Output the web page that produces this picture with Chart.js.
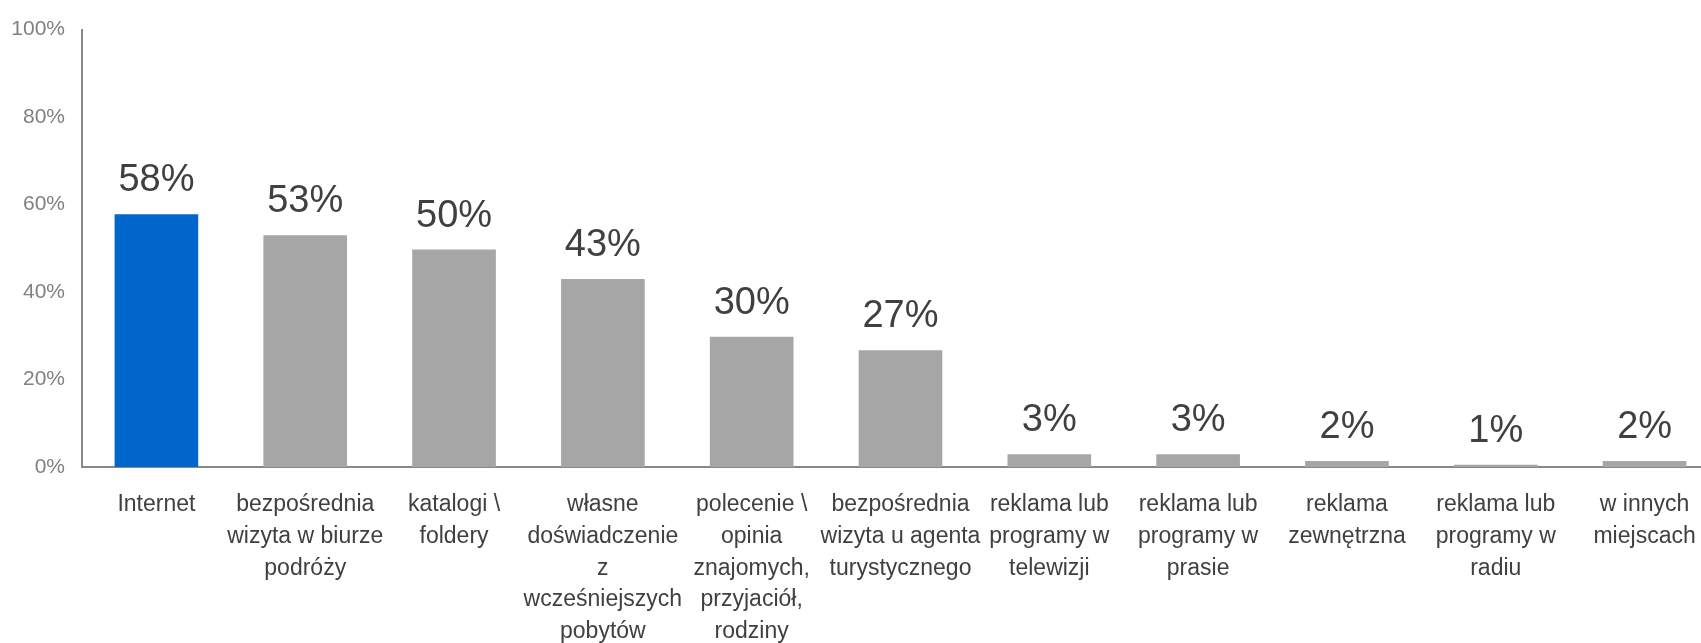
<!DOCTYPE html>
<html>
<head>
<meta charset="utf-8">
<script src="https://cdn.jsdelivr.net/npm/chart.js@4"></script>
<style>
  html, body { margin: 0; padding: 0; background: #ffffff; overflow: hidden; }
  #wrap { width: 1720px; height: 643px; }
</style>
</head>
<body>
<div id="wrap"><canvas id="c" width="1720" height="643"></canvas></div>
<script>
const categories = [
  "Internet",
  ["bezpośrednia", "wizyta w biurze", "podróży"],
  ["katalogi \\", "foldery"],
  ["własne", "doświadczenie", "z", "wcześniejszych", "pobytów"],
  ["polecenie \\", "opinia", "znajomych,", "przyjaciół,", "rodziny"],
  ["bezpośrednia", "wizyta u agenta", "turystycznego"],
  ["reklama lub", "programy w", "telewizji"],
  ["reklama lub", "programy w", "prasie"],
  ["reklama", "zewnętrzna"],
  ["reklama lub", "programy w", "radiu"],
  ["w innych", "miejscach"]
];
const values = [57.8, 53, 49.7, 43, 29.8, 26.7, 2.9, 2.9, 1.4, 0.5, 1.4];
const valueLabels = ["58%", "53%", "50%", "43%", "30%", "27%", "3%", "3%", "2%", "1%", "2%"];
const yTicks = [0, 20, 40, 60, 80, 100];

const FONT = '"Liberation Sans", Arial, sans-serif';

const dataLabelPlugin = {
  id: 'dataLabels',
  afterDatasetsDraw(chart) {
    const ctx = chart.ctx;
    const meta = chart.getDatasetMeta(0);
    ctx.save();
    ctx.font = '38px ' + FONT;
    ctx.fillStyle = '#404040';
    ctx.textAlign = 'center';
    ctx.textBaseline = 'alphabetic';
    meta.data.forEach((bar, i) => {
      ctx.fillText(valueLabels[i], bar.x, bar.y - 23);
    });
    ctx.restore();
  }
};

new Chart(document.getElementById('c'), {
  type: 'bar',
  data: {
    labels: categories,
    datasets: [{
      data: values,
      backgroundColor: values.map((v, i) => i === 0 ? '#0066CC' : '#A6A6A6'),
      borderWidth: 0,
      barPercentage: 0.562,
      categoryPercentage: 1.0
    }]
  },
  options: {
    responsive: false,
    animation: false,
    devicePixelRatio: 1,
    layout: { padding: { top: 24, right: 1, left: 0, bottom: 0 } },
    plugins: {
      legend: { display: false },
      tooltip: { enabled: false }
    },
    scales: {
      x: {
        grid: { display: false, drawTicks: false },
        border: { display: true, color: '#888888', width: 2 },
        ticks: {
          autoSkip: false,
          maxRotation: 0,
          minRotation: 0,
          padding: 22,
          color: '#404040',
          font: { family: FONT, size: 23, lineHeight: 1.38 }
        },
        afterFit(scale) { scale.height = 176; }
      },
      y: {
        min: 0,
        max: 100,
        grid: { display: false, drawTicks: false },
        border: { display: true, color: '#888888', width: 2 },
        afterBuildTicks(scale) { scale.ticks = yTicks.map(v => ({ value: v })); },
        ticks: {
          padding: 17,
          color: '#808080',
          font: { family: FONT, size: 21 },
          callback: (v) => v + '%'
        },
        afterFit(scale) { scale.width = 82; }
      }
    }
  },
  plugins: [dataLabelPlugin]
});
</script>
</body>
</html>
